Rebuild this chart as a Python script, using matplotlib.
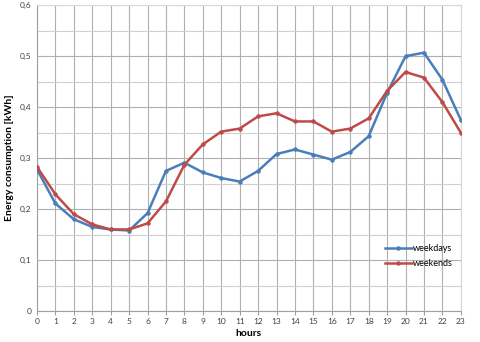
import matplotlib
matplotlib.use("Agg")
import matplotlib.pyplot as plt
from matplotlib.ticker import MultipleLocator, FuncFormatter

hours = list(range(24))
weekdays = [0.278, 0.211, 0.180, 0.165, 0.160, 0.158, 0.192, 0.275, 0.291, 0.272,
            0.261, 0.254, 0.275, 0.308, 0.317, 0.307, 0.297, 0.312, 0.343, 0.428,
            0.500, 0.507, 0.454, 0.375]
weekends = [0.283, 0.229, 0.190, 0.170, 0.160, 0.160, 0.172, 0.215, 0.287, 0.327,
            0.352, 0.358, 0.382, 0.388, 0.372, 0.372, 0.352, 0.358, 0.378, 0.432,
            0.469, 0.458, 0.410, 0.350]

plt.rcParams['font.family'] = ['Lato', 'DejaVu Sans']

fig = plt.figure(figsize=(4.8, 3.42), dpi=100)
ax = fig.add_axes([0.077, 0.0906, 0.883, 0.894])

ax.plot(hours, weekdays, color='#4a7ebb', lw=1.8, marker='o', ms=2.2, label='weekdays', zorder=3)
ax.plot(hours, weekends, color='#be4b48', lw=1.8, marker='o', ms=2.2, label='weekends', zorder=3)

ax.set_xlim(0, 23)
ax.set_ylim(0, 0.6)
ax.xaxis.set_major_locator(MultipleLocator(1))
ax.yaxis.set_major_locator(MultipleLocator(0.1))
ax.yaxis.set_minor_locator(MultipleLocator(0.05))
ax.yaxis.set_major_formatter(FuncFormatter(lambda v, p: '0' if abs(v) < 1e-9 else f'{v:.1f}'.replace('.', ',')))

ax.grid(True, which='major', axis='both', color='#b0b0b0', lw=0.8)
ax.grid(True, which='minor', axis='y', color='#d0d0d0', lw=0.8)
ax.set_axisbelow(True)

for s in ['top', 'right']:
    ax.spines[s].set_color('#d8d8d8')
for s in ['left', 'bottom']:
    ax.spines[s].set_color('#a0a0a0')

ax.tick_params(axis='both', which='major', labelsize=6, colors='#404040', length=3, width=0.8, pad=2)
ax.tick_params(axis='x', colors='#a0a0a0', labelcolor='#404040')
ax.tick_params(axis='y', length=0, labelcolor='#404040', pad=4)
ax.tick_params(axis='y', which='minor', length=0)

ax.set_xlabel('hours', fontsize=7.5, fontweight='bold', labelpad=3)
ax.set_ylabel('Energy consumption [kWh]', fontsize=7.5, fontweight='bold')
ax.yaxis.set_label_coords(-0.055, 0.5)

leg = ax.legend(loc='upper left', bbox_to_anchor=(0.81, 0.235), frameon=False, fontsize=6.5,
                handlelength=3, handletextpad=0.1, labelspacing=0.7, borderpad=0)

fig.savefig('out.png', dpi=100)
